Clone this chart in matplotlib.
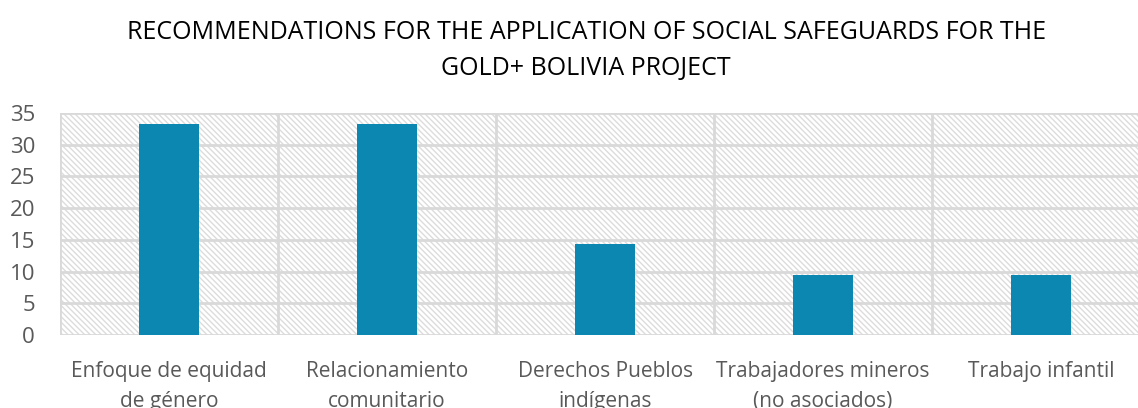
import matplotlib.pyplot as plt
import matplotlib.patches as mpatches
import numpy as np

plt.rcParams['font.family'] = ['Open Sans', 'DejaVu Sans']
plt.rcParams['hatch.color'] = '#dcdcdc'
plt.rcParams['hatch.linewidth'] = 1.0

# categorias y porcentajes
categorias = ['Enfoque de equidad\nde género', 'Relacionamiento\ncomunitario',
              'Derechos Pueblos\nindígenas', 'Trabajadores mineros\n(no asociados)',
              'Trabajo infantil']
valores = [33.3, 33.3, 14.3, 9.5, 9.5]
yticks = [0, 5, 10, 15, 20, 25, 30, 35]

fig = plt.figure(figsize=(11.38, 4.08), dpi=100)
# el area de trazado sobrepasa un poco el borde derecho
ax = fig.add_axes([0.0527, 0.179, 0.958, 0.544])

x = np.arange(len(categorias))
ax.set_xlim(-0.5, len(categorias) - 0.5)
ax.set_ylim(0, 35)

# fondo rayado del area de trazado
fondo = mpatches.Rectangle((0, 0), 1, 1, transform=ax.transAxes,
                           facecolor='white', edgecolor='#dcdcdc',
                           hatch='\\' * 6, linewidth=0, zorder=0)
ax.add_patch(fondo)

for y in yticks:
    ax.axhline(y, color='#d9d9d9', linewidth=2, zorder=1)
for xb in np.arange(-0.5, len(categorias) + 0.5, 1):
    ax.axvline(xb, color='#d9d9d9', linewidth=2, zorder=1)

ax.bar(x, valores, width=0.275, color='#0B87B1', zorder=3)

ax.set_xticks(x)
ax.set_xticklabels(categorias, fontsize=15, color='#595959', linespacing=1.55)
ax.set_yticks(yticks)
ax.set_yticklabels([str(v) for v in yticks], fontsize=16, color='#595959')
ax.tick_params(axis='both', length=0)
ax.tick_params(axis='y', pad=18)
ax.tick_params(axis='x', pad=19)
for s in ax.spines.values():
    s.set_visible(False)

fig.text(0.515, 0.92, 'RECOMMENDATIONS FOR THE APPLICATION OF SOCIAL SAFEGUARDS FOR THE',
         ha='center', va='center', fontsize=18, color='black')
fig.text(0.515, 0.833, 'GOLD+ BOLIVIA PROJECT',
         ha='center', va='center', fontsize=18, color='black')

fig.savefig('out.png', dpi=100)
